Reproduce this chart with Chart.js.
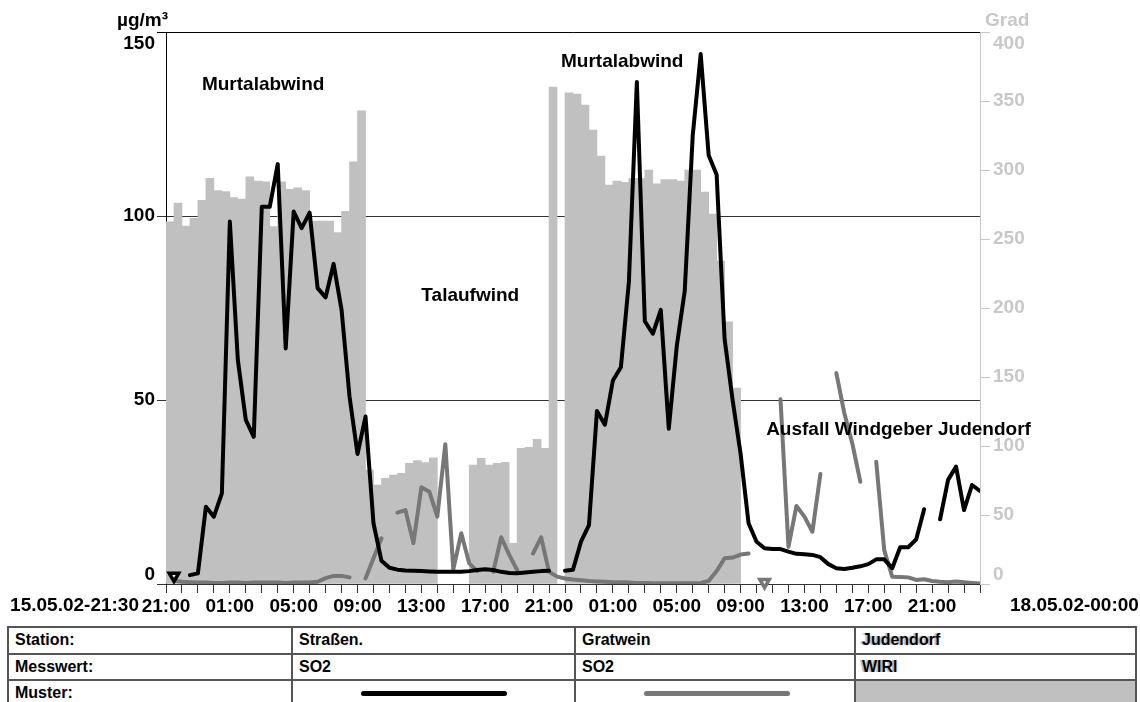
<!DOCTYPE html>
<html>
<head>
<meta charset="utf-8">
<script src="https://cdn.jsdelivr.net/npm/chart.js@4.4.1/dist/chart.umd.min.js"></script>
<style>
  html, body { margin: 0; padding: 0; background: #fff; width: 1140px; height: 702px; overflow: hidden;
    font-family: "Liberation Sans", Arial, sans-serif; }
  #chartBox { position: absolute; left: 0; top: 0; width: 1140px; height: 620px; }
  #legendTable { position: absolute; left: 7px; top: 626px; display: grid;
    grid-template-columns: 284px 283px 280px 281px; grid-template-rows: 26.5px 26.5px 26.5px;
    border-top: 2px solid #555; border-left: 2px solid #555; box-sizing: border-box; }
  #legendTable div.cell { box-sizing: border-box; border-right: 2px solid #555; border-bottom: 2px solid #555;
    display: flex; align-items: center; padding-left: 6px; font-weight: bold; font-size: 16px; color: #000; }
  #legendTable .grey { color: #808080; }
  #legendTable .ghost { text-shadow: -2px 0 1px #b8b8b8; }
  .sample { height: 5px; border-radius: 3px; }
</style>
</head>
<body>
<div id="chartBox"><canvas id="chart" width="1140" height="620"></canvas></div>

<div id="legendTable">
  <div class="cell">Station:</div>
  <div class="cell">Straßen.</div>
  <div class="cell grey">Gratwein</div>
  <div class="cell ghost">Judendorf</div>
  <div class="cell">Messwert:</div>
  <div class="cell">SO2</div>
  <div class="cell grey">SO2</div>
  <div class="cell ghost">WIRI</div>
  <div class="cell">Muster:</div>
  <div class="cell"><div class="sample" style="width:146px;margin-left:62px;background:#000"></div></div>
  <div class="cell"><div class="sample" style="width:146px;margin-left:62px;background:#777"></div></div>
  <div class="cell" style="background:#c0c0c0"></div>
</div>

<script>
// Half-hour sampling grid, in hours after 15.05.02 21:00 (0 … 51 = 18.05.02 00:00)
const slotHours = Array.from({ length: 103 }, (_, i) => i / 2);

// Straßengel, SO2 in µg/m³ (half-hourly means)
const strassenSO2 = [
  null, null, null, 2.4, 2.9, 21, 18.3, 24.6, 98.5, 60.9,
  44.6, 40, 102.5, 102.5, 114.1, 64, 101.2, 96.7, 100.9, 80.4,
  77.9, 87, 74.5, 50.9, 35.3, 45.5, 16.5, 6.3, 4.4, 3.9,
  3.7, 3.6, 3.5, 3.4, 3.3, 3.3, 3.3, 3.3, 3.5, 3.8,
  4.0, 3.8, 3.3, 3.0, 2.9, 3.1, 3.3, 3.5, 3.6, null,
  3.6, 3.9, 11.5, 16, 47, 43.3, 55.3, 58.9, 82, 136.4,
  71.4, 68, 74.5, 42.2, 64.6, 79.6, 121.8, 144, 116.5, 111.2,
  66.5, 50, 35.4, 16.5, 11.5, 9.7, 9.5, 9.5, 8.8, 8.2,
  8.1, 7.9, 7.3, 5.4, 4.3, 4.1, 4.4, 4.8, 5.4, 6.7,
  6.7, 4.3, 10, 10, 12.1, 20.3, null, 17.6, 28.3, 31.9,
  20.1, 26.9, 25.3
];

// Gratwein, SO2 in µg/m³ (half-hourly means)
const gratweinSO2 = [
  null, 0.9, 0.6, 0.5, 0.4, 0.4, 0.3, 0.3, 0.4, 0.4,
  0.3, 0.4, 0.4, 0.4, 0.4, 0.3, 0.4, 0.4, 0.4, 0.6,
  1.6, 2.2, 2.2, 1.8, null, 1.5, 7, 12.4, null, 19.4,
  20.1, 11.1, 26.3, 25.1, 18.3, 38, 4.0, 13.8, 5.6, 3.5,
  null, 3.3, 12.7, 8, 3.8, null, 8.3, 12.7, 3.3, 2.0,
  1.5, 1.2, 1.0, 0.8, 0.7, 0.6, 0.5, 0.5, 0.4, 0.3,
  0.3, 0.2, 0.2, 0.2, 0.2, 0.2, 0.2, 0.3, 0.8, 3.5,
  7, 7.2, 8, 8.3, null, null, null, 50.2, 10.1, 21.2,
  18.3, 14.2, 29.9, null, 57.3, 46.4, 38.2, 27.8, null, 33.2,
  9.2, 2.0, 1.9, 1.8, 1.1, 1.3, 0.8, 0.6, 0.5, 0.7,
  0.5, 0.3, 0.1
];

// Judendorf, wind direction WIRI in degrees (half-hour blocks starting at 15.05. 21:00)
const judendorfWIRI = [
  262.5, 276, 259.4, 265, 278, 294, 285, 284.3, 280, 279,
  295, 292, 291.5, 259, 291.5, 286, 287, 285, 263, 263,
  263, 254.6, 270, 306, 342.8, 82.6, 71.7, 76.6, 79, 80.2,
  87.5, 89.4, 88, 91.5, null, null, null, null, 86.2, 91,
  86.2, 87.5, 88.2, 29.5, 98.3, 99, 104.8, 98.3, 360, null,
  356, 355, 347, 329, 310, 289, 292, 291, 294, 294,
  300, 290, 293, 293, 292, 300, 300, 284, 268, 234,
  190, 142
];

// Start markers of the two SO2 series
const markerHours = [0.5, 37.5];
const markerValues = [2.2, 0.5];
const markerColors = ['#000000', '#777777'];

// Axis tick labels
const timeTickLabels = ['21:00', '01:00', '05:00', '09:00', '13:00', '17:00', '21:00',
                        '01:00', '05:00', '09:00', '13:00', '17:00', '21:00'];
const so2Ticks = [0, 50, 100, 150];
const windTicks = [0, 50, 100, 150, 200, 250, 300, 350, 400];
const rangeStartLabel = '15.05.02-21:30';
const rangeEndLabel = '18.05.02-00:00';

// Text notes placed in data coordinates (hour, µg/m³)
const notes = [
  { text: 'Murtalabwind', hour: 2.25, value: 135.6 },
  { text: 'Murtalabwind', hour: 24.75, value: 141.8 },
  { text: 'Talaufwind', hour: 16.0, value: 78.3 },
  { text: 'Ausfall Windgeber Judendorf', hour: 37.6, value: 41.8 }
];

const FONT = '"Liberation Sans", Arial, sans-serif';
const toPoints = (vals) => vals.map((v, i) => ({ x: slotHours[i], y: v }));

const overlayText = {
  id: 'overlayText',
  afterDatasetsDraw(chart) {
    const { ctx, scales: { x, y } } = chart;
    ctx.save();
    ctx.font = 'bold 19px ' + FONT;
    ctx.fillStyle = '#000';
    ctx.textAlign = 'left';
    ctx.textBaseline = 'middle';
    notes.forEach(n => ctx.fillText(n.text, x.getPixelForValue(n.hour), y.getPixelForValue(n.value)));
    ctx.restore();
  },
  afterDraw(chart) {
    const { ctx, chartArea: a, scales: { y, y1 } } = chart;
    const clampY = (p) => Math.min(Math.max(p, a.top + 12), a.bottom - 9);
    ctx.save();
    ctx.font = 'bold 19px ' + FONT;
    ctx.textBaseline = 'middle';
    // left axis
    ctx.fillStyle = '#000';
    ctx.textAlign = 'right';
    so2Ticks.forEach(v => ctx.fillText(String(v), a.left - 11, clampY(y.getPixelForValue(v))));
    ctx.fillText('µg/m³', a.left + 2, a.top - 11);
    // right axis
    ctx.fillStyle = '#c8c8c8';
    ctx.textAlign = 'left';
    windTicks.forEach(v => ctx.fillText(String(v), a.right + 13, clampY(y1.getPixelForValue(v))));
    ctx.fillText('Grad', a.right + 5, a.top - 11);
    // time range
    ctx.fillStyle = '#000';
    ctx.textAlign = 'right';
    ctx.fillText(rangeStartLabel, a.left - 27, a.bottom + 22);
    ctx.textAlign = 'left';
    ctx.fillText(rangeEndLabel, a.right + 30, a.bottom + 22);
    ctx.restore();
  }
};

new Chart(document.getElementById('chart'), {
  data: {
    datasets: [
      {
        type: 'scatter',
        data: markerHours.map((h, i) => ({ x: h, y: markerValues[i] })),
        pointStyle: 'triangle',
        pointRotation: 180,
        pointRadius: 5.5,
        pointBorderWidth: 3.5,
        pointBackgroundColor: '#fff',
        pointBorderColor: markerColors,
        yAxisID: 'y',
        clip: false,
        order: 0
      },
      {
        type: 'line',
        label: 'Straßen. SO2',
        data: toPoints(strassenSO2),
        borderColor: '#000',
        borderWidth: 4,
        borderJoinStyle: 'round',
        borderCapStyle: 'round',
        pointRadius: 0,
        tension: 0,
        spanGaps: false,
        yAxisID: 'y',
        order: 1
      },
      {
        type: 'line',
        label: 'Gratwein SO2',
        data: toPoints(gratweinSO2),
        borderColor: '#777',
        borderWidth: 4,
        borderJoinStyle: 'round',
        borderCapStyle: 'round',
        pointRadius: 0,
        tension: 0,
        spanGaps: false,
        yAxisID: 'y',
        order: 2
      },
      {
        type: 'bar',
        label: 'Judendorf WIRI',
        data: judendorfWIRI.map((v, i) => ({ x: slotHours[i] + 0.25, y: v })),
        backgroundColor: '#c0c0c0',
        borderWidth: 0,
        barPercentage: 1,
        categoryPercentage: 1,
        yAxisID: 'y1',
        order: 3
      }
    ]
  },
  options: {
    responsive: false,
    animation: false,
    layout: { padding: { top: 32, left: 0, right: 0, bottom: 0 } },
    plugins: { legend: { display: false }, tooltip: { enabled: false } },
    scales: {
      x: {
        type: 'linear', min: 0, max: 51, offset: false,
        afterFit(s) { s.height = 36; },
        ticks: {
          stepSize: 1, autoSkip: false, maxRotation: 0, minRotation: 0, padding: 2,
          color: '#000', font: { family: FONT, size: 19, weight: 'bold' },
          callback: (v) => (v % 4 === 0 ? timeTickLabels[v / 4] : '')
        },
        grid: { offset: false, drawOnChartArea: false, drawTicks: true, tickLength: 9, color: '#333', lineWidth: 1 },
        border: { color: '#333', width: 1 }
      },
      y: {
        position: 'left', min: 0, max: 150,
        afterFit(s) { s.width = 166; },
        ticks: { display: false, stepSize: 50 },
        grid: { tickLength: 9, lineWidth: 1, color: (c) => (c.tick && c.tick.value === 150 ? '#000' : '#333') },
        border: { color: '#000', width: 1 }
      },
      y1: {
        position: 'right', min: 0, max: 400,
        afterFit(s) { s.width = 160; },
        ticks: { display: false, stepSize: 50 },
        grid: { drawOnChartArea: false, tickLength: 10, color: '#c8c8c8', lineWidth: 1 },
        border: { color: '#c8c8c8', width: 1 }
      }
    }
  },
  plugins: [overlayText]
});
</script>
</body>
</html>
